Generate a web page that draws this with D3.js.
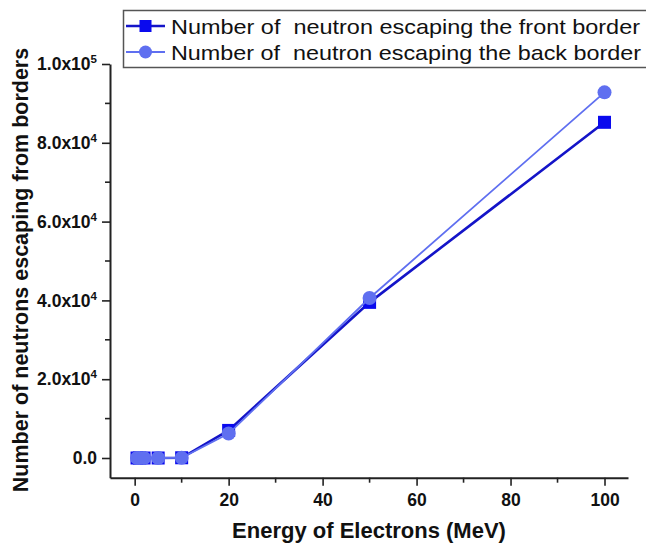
<!DOCTYPE html>
<html>
<head>
<meta charset="utf-8">
<script src="https://cdn.jsdelivr.net/npm/d3@7/dist/d3.min.js"></script>
<style>
  html, body { margin: 0; padding: 0; background: #fff; }
  svg { display: block; font-family: "Liberation Sans", Arial, sans-serif; }
</style>
</head>
<body>
<svg id="chart" width="646" height="546"></svg>
<script>
// Electron beam energies (MeV)
const energies = [0.5, 1, 2, 5, 10, 20, 50, 100];
// Neutrons escaping through the front border
const frontCounts = [0, 0, 0, 0, 60, 7000, 39500, 85200];
// Neutrons escaping through the back border
const backCounts = [0, 0, 0, 0, 40, 6200, 40600, 92800];

const seriesNames = [
  "Number of  neutron escaping the front border",
  "Number of  neutron escaping the back border"
];
const xTicks = [0, 20, 40, 60, 80, 100];
const xMinor = [10, 30, 50, 70, 90];
const yTicks = [0, 20000, 40000, 60000, 80000, 100000];
const yMinor = [10000, 30000, 50000, 70000, 90000];
const yTickLabels = [["0.0", null], ["2.0x10", "4"], ["4.0x10", "4"], ["6.0x10", "4"], ["8.0x10", "4"], ["1.0x10", "5"]];

const frontColor = "#1414c8", frontMarker = "#0a0aee";
const backColor = "#5f6ff0";

const svg = d3.select("#chart");
const x = d3.scaleLinear().domain([-5.25, 105]).range([110, 628]);
const y = d3.scaleLinear().domain([-5000, 100000]).range([477.7, 64]);

const axisColor = "#222";

// x axis
const gx = svg.append("g").attr("transform", `translate(0,${y(-5000)})`);
gx.call(d3.axisBottom(x).tickValues(xTicks).tickSize(8).tickSizeOuter(0).tickPadding(8).tickFormat(d3.format("d")));
gx.append("g").selectAll("line").data(xMinor).join("line")
  .attr("x1", d => x(d)).attr("x2", d => x(d)).attr("y1", 0).attr("y2", 5)
  .attr("stroke", axisColor).attr("stroke-width", 1.6);

// y axis
const gy = svg.append("g").attr("transform", `translate(${x(-5.25)},0)`);
gy.call(d3.axisLeft(y).tickValues(yTicks).tickSize(8).tickSizeOuter(0).tickPadding(6).tickFormat(() => ""));
gy.append("g").selectAll("line").data(yMinor).join("line")
  .attr("y1", d => y(d)).attr("y2", d => y(d)).attr("x1", 0).attr("x2", -5)
  .attr("stroke", axisColor).attr("stroke-width", 1.6);

[gx, gy].forEach(g => {
  g.select(".domain").attr("stroke", axisColor).attr("stroke-width", 2);
  g.selectAll(".tick line").attr("stroke", axisColor).attr("stroke-width", 1.6);
  g.selectAll(".tick text").attr("fill", "#111").attr("font-size", 17.5).attr("font-weight", "bold")
    .attr("font-family", "'Liberation Sans', Arial, sans-serif");
});

// y tick labels with exponent
gy.selectAll(".tick text").each(function(d, i) {
  const t = d3.select(this);
  const [base, exp] = yTickLabels[i];
  t.text(null);
  t.append("tspan").text(base);
  if (exp) t.append("tspan").attr("font-size", 11.5).attr("dy", "-0.6em").text(exp);
}).attr("x", -13);

// axis titles
svg.append("text")
  .attr("x", 369).attr("y", 538)
  .attr("text-anchor", "middle").attr("font-size", 22).attr("font-weight", "bold").attr("fill", "#111")
  .text("Energy of Electrons (MeV)");
svg.append("text")
  .attr("transform", "translate(28,270) rotate(-90)")
  .attr("text-anchor", "middle").attr("font-size", 21.5).attr("font-weight", "bold").attr("fill", "#111")
  .text("Number of neutrons escaping from borders");

// series
const line = d3.line().x(d => x(d[0])).y(d => y(d[1]));
const front = energies.map((e, i) => [e, frontCounts[i]]);
const back = energies.map((e, i) => [e, backCounts[i]]);

svg.append("path").datum(front).attr("d", line)
  .attr("fill", "none").attr("stroke", frontColor).attr("stroke-width", 2.6);
svg.append("g").selectAll("rect").data(front).join("rect")
  .attr("x", d => x(d[0]) - 6.5).attr("y", d => y(d[1]) - 6.5)
  .attr("width", 13).attr("height", 13).attr("fill", frontMarker);

svg.append("path").datum(back).attr("d", line)
  .attr("fill", "none").attr("stroke", backColor).attr("stroke-width", 1.8);
svg.append("g").selectAll("circle").data(back).join("circle")
  .attr("cx", d => x(d[0])).attr("cy", d => y(d[1])).attr("r", 7)
  .attr("fill", backColor);

// legend
const lg = svg.append("g");
lg.append("rect").attr("x", 123.5).attr("y", 10.5).attr("width", 530).attr("height", 57)
  .attr("fill", "#fff").attr("stroke", "#555").attr("stroke-width", 1.5);
const rows = [
  { name: seriesNames[0], color: frontColor, width: 2.6, shape: "square", fill: frontMarker, len: 469 },
  { name: seriesNames[1], color: backColor, width: 1.8, shape: "circle", fill: backColor, len: 470 }
];
rows.forEach((r, i) => {
  const cy = 26 + i * 26;
  lg.append("line").attr("x1", 126).attr("x2", 165).attr("y1", cy).attr("y2", cy)
    .attr("stroke", r.color).attr("stroke-width", r.width);
  if (r.shape === "square") {
    lg.append("rect").attr("x", 139.5).attr("y", cy - 6).attr("width", 12).attr("height", 12).attr("fill", r.fill);
  } else {
    lg.append("circle").attr("cx", 145.5).attr("cy", cy).attr("r", 6.5).attr("fill", r.fill);
  }
  lg.append("text").attr("x", 171).attr("y", cy + 7.5).attr("font-size", 21).attr("fill", "#111")
    .attr("textLength", r.len).attr("lengthAdjust", "spacingAndGlyphs")
    .style("white-space", "pre").text(r.name);
});
</script>
</body>
</html>
